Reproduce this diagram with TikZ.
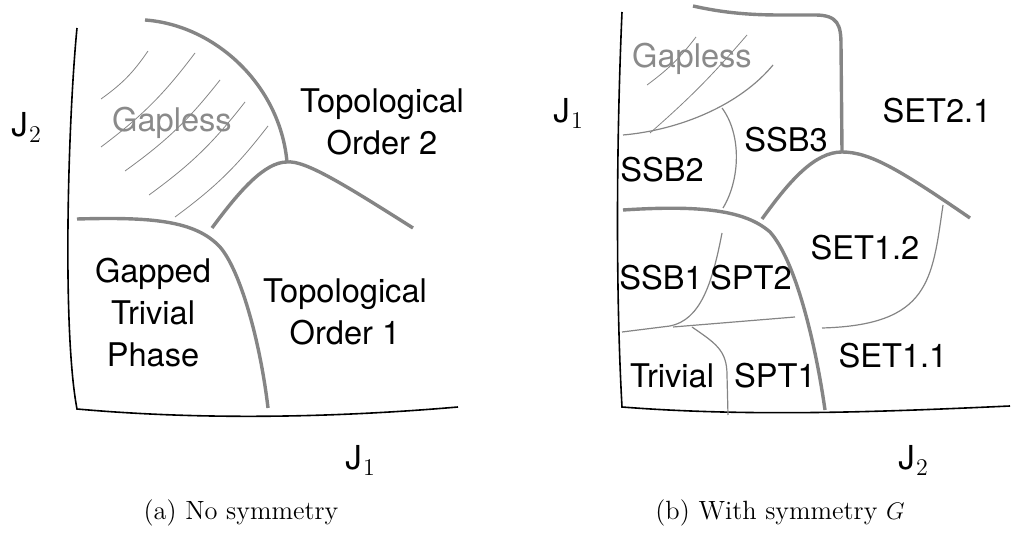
\documentclass[tikz,border=0pt]{standalone}
\usepackage{fontspec}
\newfontfamily\labelfont{TeX Gyre Heros}
\definecolor{boundary}{RGB}{133,133,133}
\definecolor{gaplessgray}{RGB}{138,138,138}
% axis name with a roman subscript
\newcommand{\coupling}[1]{J\kern0.6pt\raisebox{-2.6pt}{\fontsize{12}{12}\selectfont\rmfamily #1}}
\begin{document}
\begin{tikzpicture}[x=0.5pt,y=-0.5pt,
  axis/.style={black,line width=0.8pt},
  major/.style={boundary,line width=1.7pt},
  minor/.style={boundary,line width=0.6pt},
  hatch/.style={boundary,line width=0.4pt},
  phase/.style={font=\labelfont\fontsize{16.3}{21}\selectfont,align=center,inner sep=0pt,anchor=base},
  gaplabel/.style={phase,text=gaplessgray},
  axislabel/.style={font=\labelfont\fontsize{16.5}{21}\selectfont,inner sep=0pt,anchor=base west},
  caption/.style={font=\fontsize{13.2}{16}\selectfont,inner sep=0pt,anchor=base}]
\useasboundingbox (0,0) rectangle (1011,533);

% ---------------- (a) no symmetry ----------------
\coordinate (a-top)    at (77,28);
\coordinate (a-origin) at (77,409);
\coordinate (a-end)    at (458,407);
\coordinate (a-triple) at (287,162);
\draw[axis] (a-top) .. controls (68,120) and (62,330) .. (a-origin)
            .. controls (200,420) and (330,418) .. (a-end);

% hatching of the gapless region
\draw[hatch] (101,99)  to[bend right=10] (148,51);
\draw[hatch] (101,147) to[bend right=8]  (195,53);
\draw[hatch] (125,171) to[bend right=8]  (220,80);
\draw[hatch] (149,195) to[bend right=8]  (245,102);
\draw[hatch] (175,217) to[bend right=8]  (268,126);

% phase boundaries
\draw[major] (145,20) .. controls (215,25) and (280,85) .. (a-triple);
\draw[major] (212,228) .. controls (240,190) and (265,162) .. (a-triple)
             .. controls (305,160) and (345,185) .. (413,228);
\draw[major] (77,219) .. controls (150,217) and (195,220) .. (220,247)
             .. controls (240,270) and (260,340) .. (268,408);

% labels (base anchor = baseline of the last line)
\node[gaplabel] (a-gapless) at (172,132) {Gapless};
\node[phase] (a-topo2)   at (382,155) {Topological\\Order 2};
\node[phase] (a-trivial) at (153,367) {Gapped\\Trivial\\Phase};
\node[phase] (a-topo1)   at (345,345) {Topological\\Order 1};

\node[axislabel] (a-ylabel) at (11,137) {\coupling{2}};
\node[axislabel] (a-xlabel) at (345,470) {\coupling{1}};
\node[caption] (a-caption) at (241,519) {(a) No symmetry};

% ---------------- (b) with symmetry G ----------------
\coordinate (b-top)    at (622,12);
\coordinate (b-origin) at (622,407);
\coordinate (b-end)    at (1010,406);
\coordinate (b-peak)   at (842,152);
\draw[axis] (b-top) .. controls (616,150) and (616,300) .. (b-origin)
            .. controls (750,417) and (880,412) .. (b-end);

% hatching of the gapless region
\draw[hatch] (647,85)  to[bend right=8] (696,37);
\draw[hatch] (650,133) to[bend right=4] (747,35);

% thick boundaries
\draw[major] (693,6) .. controls (720,12) and (745,15) .. (780,15) -- (815,15)
             .. controls (838,15) and (841,25) .. (841,45) -- (b-peak);
\draw[major] (762,219) .. controls (790,180) and (815,152) .. (b-peak)
             .. controls (870,152) and (900,170) .. (970,218);
\draw[major] (623,210) .. controls (700,205) and (745,210) .. (770,232)
             .. controls (795,260) and (815,340) .. (825,410);

% thin boundaries
\draw[minor] (623,135) .. controls (680,130) and (740,105) .. (773,65);
\draw[minor] (722,108) .. controls (742,135) and (740,180) .. (723,208);
\draw[minor] (622,332) -- (670,326) .. controls (700,320) and (712,285) .. (722,233);
\draw[minor] (673,327) -- (795,317);
\draw[minor] (692,327) .. controls (715,343) and (727,350) .. (727,375) -- (728,415);
\draw[minor] (943,205) .. controls (932,280) and (930,325) .. (822,328);

\node[gaplabel] (b-gapless) at (692,68) {Gapless};
\node[phase] (b-set21)   at (937,123) {SET2.1};
\node[phase] (b-ssb3)    at (786,152) {SSB3};
\node[phase] (b-ssb2)    at (662,182) {SSB2};
\node[phase] (b-set12)   at (865,260) {SET1.2};
\node[phase] (b-ssb1)    at (661,290) {SSB1};
\node[phase] (b-spt2)    at (751,290) {SPT2};
\node[phase] (b-set11)   at (893,368) {SET1.1};
\node[phase] (b-trivial) at (672,388) {Trivial};
\node[phase] (b-spt1)    at (775,388) {SPT1};

\node[axislabel] (b-ylabel) at (553,123) {\coupling{1}};
\node[axislabel] (b-xlabel) at (898,470) {\coupling{2}};
\node[caption] (b-caption) at (780,519) {(b) With symmetry $G$};
\end{tikzpicture}
\end{document}
